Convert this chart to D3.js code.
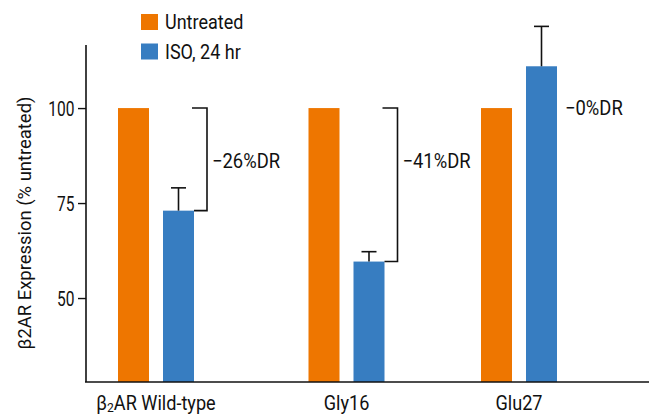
<!DOCTYPE html>
<html><head><meta charset="utf-8">
<script src="https://cdn.jsdelivr.net/npm/d3@7"></script>
<style>
body{margin:0;background:#fff;}
text{font-family:Roboto,"Liberation Sans",sans-serif;fill:#111;}
</style></head>
<body><svg id="c" width="649" height="414"></svg>
<script>
const categories = ["β₂AR Wild-type", "Gly16", "Glu27"];
const untreated = [100, 100, 100];
const iso24 = [73, 59.6, 111];
const isoErr = [6, 2.6, 10.5];
const drLabels = ["−26%DR", "−41%DR", "−0%DR"];
const drLabelY = [86, 86, 100];
const hasBracket = [true, true, false];
const seriesNames = ["Untreated", "ISO, 24 hr"];
const colors = ["#EE7600", "#377DC1"];
const yTicks = [50, 75, 100];

const svg = d3.select("#c");
const y = d3.scaleLinear().domain([27.9, 116.6]).range([382, 45]);
const x = d3.scaleOrdinal().domain(categories).range([156, 346.5, 519]);
const barW = 31, gap = 14;
const off = [-(gap/2 + barW), gap/2];

function ctext(px, py, size, sx, anchor, baseline) {
  return svg.append("text")
    .attr("transform", `translate(${px},${py}) scale(${sx},1)`)
    .attr("font-size", size)
    .attr("text-anchor", anchor || "start")
    .attr("dominant-baseline", baseline || "auto");
}

// bars
[untreated, iso24].forEach((vals, s) => {
  svg.selectAll(null).data(vals).enter().append("rect")
    .attr("x", (d,i) => x(categories[i]) + off[s])
    .attr("y", d => y(d))
    .attr("width", barW)
    .attr("height", d => y.range()[0] - y(d))
    .attr("fill", colors[s]);
});

// error bars
iso24.forEach((v,i) => {
  const cx = x(categories[i]) + off[1] + barW/2;
  const g = svg.append("g").attr("stroke","#111").attr("stroke-width",1.6);
  g.append("line").attr("x1",cx).attr("x2",cx).attr("y1",y(v)).attr("y2",y(v+isoErr[i]));
  g.append("line").attr("x1",cx-7.5).attr("x2",cx+7.5).attr("y1",y(v+isoErr[i])).attr("y2",y(v+isoErr[i]));
});

// brackets and labels
categories.forEach((c,i) => {
  const right = x(c) + off[1] + barW;
  let lx = right + 8;
  if (hasBracket[i]) {
    const bx = right + 13;
    svg.append("path")
      .attr("d", `M${right-2},${y(untreated[i])}H${bx}V${y(iso24[i])}H${right}`)
      .attr("fill","none").attr("stroke","#111").attr("stroke-width",1.6);
    lx = bx + 5;
  }
  ctext(lx, y(drLabelY[i]), 20, 0.92, "start", "central").text(drLabels[i]);
});

// axes
const yAxis = d3.axisLeft(y).tickValues(yTicks).tickSize(8).tickPadding(3);
const gy = svg.append("g").attr("transform","translate(86,0)").call(yAxis);
gy.select(".domain").attr("d", `M0,${y.range()[1]}V${y.range()[0]}`).attr("stroke","#111").attr("stroke-width",1.6);
gy.selectAll(".tick line").attr("stroke","#111").attr("stroke-width",1.4);
gy.selectAll(".tick text").attr("font-size",21).attr("font-family",null).attr("fill","#111")
  .attr("x", null).attr("dy", null).attr("dominant-baseline","central")
  .attr("transform","translate(-11.5,1) scale(0.74,1)");

svg.append("line").attr("x1",85).attr("x2",649).attr("y1",y.range()[0]).attr("y2",y.range()[0])
  .attr("stroke","#111").attr("stroke-width",1.6);

categories.forEach(c => {
  const t = ctext(x(c), 410, 19.5, 0.93, "middle");
  if (c.startsWith("β")) {
    t.append("tspan").text("β");
    t.append("tspan").attr("font-size",13).attr("dy",2).text("2");
    t.append("tspan").attr("dy",-2).text("AR Wild-type");
  } else t.text(c);
});

svg.append("text").attr("transform","translate(31,223) rotate(-90) scale(0.97,1)").attr("text-anchor","middle")
  .attr("font-size",19).text("β2AR Expression (% untreated)");

// legend
seriesNames.forEach((n,i) => {
  svg.append("rect").attr("x",141).attr("y",14 + i*29.5).attr("width",17).attr("height",16).attr("fill",colors[i]);
  ctext(165, 29 + i*29.5, 20, 0.9, "start").text(n);
});
</script></body></html>
